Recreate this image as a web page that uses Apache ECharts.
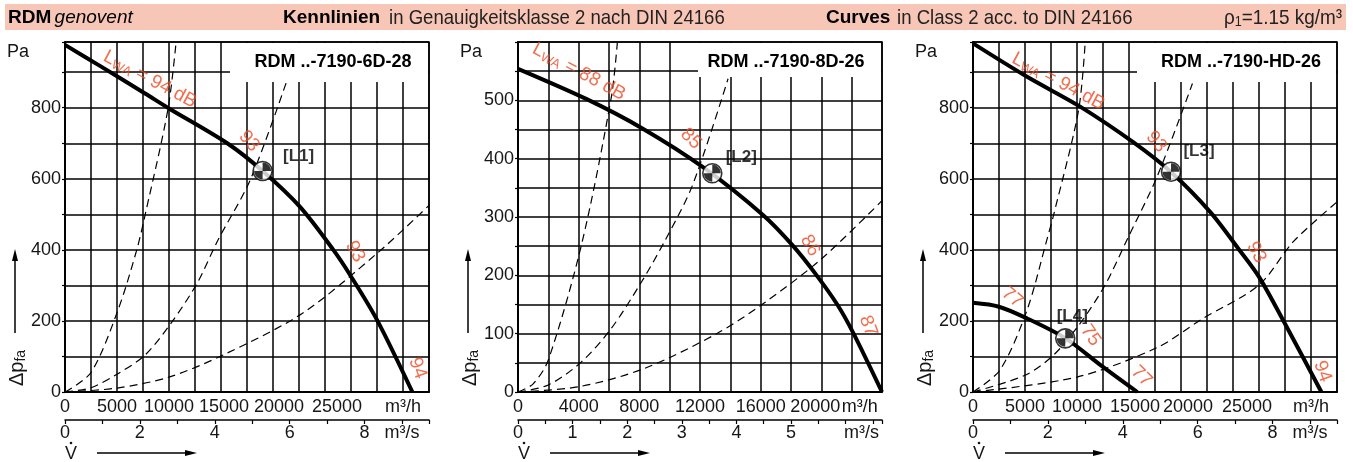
<!DOCTYPE html>
<html>
<head>
<meta charset="utf-8">
<script src="https://cdn.jsdelivr.net/npm/echarts@6/dist/echarts.min.js"></script>
<style>
  html, body { margin: 0; padding: 0; background: #fff; }
  #chart { width: 1353px; height: 462px; }
</style>
</head>
<body>
<div id="chart"></div>
<script>
// --- data (volume flow m3/h, pressure Pa) ---
const titles = ['RDM ..-7190-6D-28', 'RDM ..-7190-8D-26', 'RDM ..-7190-HD-26']

// tick labels
const qTicks1 = [0, 5000, 10000, 15000, 20000, 25000]
const qTicks2 = [0, 4000, 8000, 12000, 16000, 20000]
const sTicks1 = [0, 2, 4, 6, 8]
const sTicks2 = [0, 1, 2, 3, 4, 5]
const pTicks1 = [0, 200, 400, 600, 800]
const pTicks2 = [0, 100, 200, 300, 400, 500]

// 6D-28
const fan1Q = [0, 3400, 7700, 10000, 15600, 19000, 22600, 25800, 27400, 30000, 33400]
const fan1P = [977, 917, 840, 798, 700, 622, 521, 400, 330, 203, 0]
const sys1aQ = [0, 2500, 5100, 6900, 7700, 9900, 10700]
const sys1aP = [0, 55, 231, 400, 498, 796, 990]
const sys1bQ = [0, 2500, 5000, 7700, 10300, 12700, 14700, 17800, 21300]
const sys1bP = [0, 12, 50, 104, 198, 306, 427, 596, 873]
const sys1cQ = [0, 5000, 10000, 15200, 22800, 30000, 35000]
const sys1cP = [0, 11, 42, 104, 221, 390, 525]

// 8D-26
const fan2Q = [0, 4530, 8260, 12220, 16170, 18150, 19690, 21050, 22110, 24000]
const fan2P = [554, 502, 451, 385, 303, 250, 200, 150, 101, 0]
const sys2aQ = [0, 1000, 2000, 4200, 6150, 6550]
const sys2aP = [0, 14, 55, 254, 505, 599]
const sys2bQ = [0, 2000, 4200, 6150, 8150, 9700, 11500, 13850]
const sys2bP = [0, 12, 52, 109, 189, 260, 354, 537]
const sys2cQ = [0, 4000, 8300, 13100, 16200, 20000, 24000]
const sys2cP = [0, 9, 40, 100, 152, 228, 328]

// HD-26 (high and low speed)
const fan3Q = [0, 5200, 10300, 15400, 19000, 22800, 25500, 27500, 30000, 33500]
const fan3P = [981, 887, 803, 703, 620, 507, 404, 324, 192, 0]
const fan4Q = [0, 2500, 5200, 8900, 12300, 15800]
const fan4P = [251, 240, 207, 151, 75, 0]
const sys3aQ = [0, 2600, 5200, 7100, 7750, 10150, 10800]
const sys3aP = [0, 62, 231, 428, 498, 793, 990]
const sys3bQ = [0, 5000, 7750, 10300, 12700, 14800, 17700, 21100]
const sys3bP = [0, 47, 104, 193, 301, 428, 606, 868]
const sys3cQ = [0, 10000, 17700, 22000, 27500, 30800, 35000]
const sys3cP = [0, 42, 125, 205, 301, 423, 535]

// operating points
const opNames = ['[L1]', '[L2]', '[L3]', '[L4]']
const opPanel = [0, 1, 2, 2]
const opQ = [19000, 12810, 19040, 8870]
const opP = [622, 375, 620, 151]

// sound power notes along the curves
const noteText = ['LWA = 94 dB', '93', '93', '94', 'LWA = 88 dB', '85', '86', '87',
  'LWA = 94 dB', '93', '93', '94', '77', '75', '77']
const notePanel = [0, 0, 0, 0, 1, 1, 1, 1, 2, 2, 2, 2, 2, 2, 2]
const noteQ = [8170, 17700, 27900, 33900, 4020, 11400, 19250, 23080, 8200, 17630, 27250, 33600, 3780, 11300, 16200]
const noteP = [880, 706, 395, 67, 549, 434, 251, 113, 874, 704, 393, 58, 266, 159, 44]

// --- layout ---
const SANS = '"Liberation Sans", Arial, sans-serif'
const RED = '#ef4a23'
const INK = '#161616'
const noteRotate = [-28, -50, -62, -70, -28, -45, -60, -70, -28, -50, -62, -70, -40, -55, -45]
const opOffset = [[36, -15], [29, -16], [28, -20], [7, -22]]

const panels = [
  { left: 65, qMax: 35000, qStep: 2500, pMax: 985, pStep: 100, qTicks: qTicks1, sTicks: sTicks1, pTicks: pTicks1,
    qUnitAt: 32500, sUnitAt: 9, sUnitShift: 0, qShift: { 15000: 3, 20000: 6, 25000: 12 }, box: [230, 39] },
  { left: 518, qMax: 24000, qStep: 2000, pMax: 600, pStep: 50, qTicks: qTicks2, sTicks: sTicks2, pTicks: pTicks2,
    qUnitAt: 22000, sUnitAt: 6, sUnitShift: 16, qShift: { 20000: -6, 22000: 8 }, box: [698, 34] },
  { left: 973, qMax: 35000, qStep: 2500, pMax: 985, pStep: 100, qTicks: qTicks1, sTicks: sTicks1, pTicks: pTicks1,
    qUnitAt: 32500, sUnitAt: 9, sUnitShift: 0, qShift: { 15000: 6, 20000: 7, 25000: 14 }, box: [1137, 39] }
]
const TOP = 42, W = 364, H = 350

function shiftRich(shift, text) {
  if (!shift) return text
  const key = shift > 0 ? 'r' + shift : 'l' + (-shift)
  return '{' + key + '|' + text + '}'
}
const shiftStyles = {}
for (let i = 1; i <= 20; i++) {
  shiftStyles['r' + i] = { padding: [0, 0, 0, i * 2] }
  shiftStyles['l' + i] = { padding: [0, i * 2, 0, 0] }
}

const grid = []
const xAxis = []
const yAxis = []
const series = []
const graphic = []

panels.forEach((pn, i) => {
  grid.push({ left: pn.left, top: TOP, width: W, height: H, show: true, borderColor: '#000', borderWidth: 1.5, backgroundColor: 'transparent' })
  xAxis.push({
    type: 'value', gridIndex: i, min: 0, max: pn.qMax, interval: pn.qStep,
    axisLine: { show: true, onZero: false, lineStyle: { color: '#000', width: 2 } },
    axisTick: { show: false },
    splitLine: { show: true, lineStyle: { color: '#000', width: 1.5 } },
    axisLabel: {
      margin: 6, fontFamily: SANS, fontSize: 18, color: INK, rich: shiftStyles,
      formatter: v => {
        if (v === pn.qUnitAt) return shiftRich(pn.qShift[v], 'm³/h')
        if (pn.qTicks.includes(v)) return shiftRich(pn.qShift[v], String(v))
        return ''
      }
    }
  })
  xAxis.push({
    type: 'value', gridIndex: i, position: 'bottom', offset: 28, min: 0, max: pn.qMax / 3600, interval: 1,
    axisLine: { show: true, onZero: false, lineStyle: { color: '#000', width: 1.5 } },
    axisTick: { show: true, length: 4, lineStyle: { color: '#000', width: 1.2 } },
    minorTick: { show: i === 1, splitNumber: 2, length: 4, lineStyle: { color: '#000', width: 1.2 } },
    splitLine: { show: false },
    axisLabel: {
      margin: 4, fontFamily: SANS, fontSize: 18, color: INK, rich: shiftStyles,
      formatter: v => {
        if (v === pn.sUnitAt) return shiftRich(pn.sUnitShift, 'm³/s')
        if (pn.sTicks.includes(v)) return String(v)
        return ''
      }
    }
  })
  yAxis.push({
    type: 'value', gridIndex: i, min: 0, max: pn.pMax, interval: pn.pStep,
    axisLine: { show: true, lineStyle: { color: '#000', width: 2 } },
    axisTick: { show: true, length: 3, lineStyle: { color: '#000', width: 1.2 } },
    splitLine: { show: true, lineStyle: { color: '#000', width: 1.5 } },
    axisLabel: {
      margin: 4, fontFamily: SANS, fontSize: 18, color: INK,
      formatter: v => (pn.pTicks.includes(v) ? String(v) : '')
    }
  })

  // white title box that cuts the grid top right
  const right = pn.left + W
  graphic.push({ type: 'rect', z: 10, shape: { x: pn.box[0], y: TOP + 1, width: right - pn.box[0] - 1, height: pn.box[1] }, style: { fill: '#fff' } })
  graphic.push({ type: 'text', z: 11, x: right - 96, y: 62, style: { text: titles[i], fill: '#000', fontFamily: SANS, fontWeight: 'bold', fontSize: 18, align: 'center', verticalAlign: 'middle' } })

  const dx = pn.left - 65
  graphic.push({ type: 'text', z: 11, x: 18 + dx, y: 52, style: { text: 'Pa', fill: INK, fontFamily: SANS, fontSize: 18, align: 'center', verticalAlign: 'middle' } })
  graphic.push({
    type: 'text', z: 11, x: 17 + dx, y: 368, rotation: Math.PI / 2,
    style: {
      text: '{a|Δp}{b|fa}', fill: INK, align: 'center', verticalAlign: 'middle',
      rich: { a: { fontFamily: SANS, fontSize: 20, fill: INK }, b: { fontFamily: SANS, fontSize: 14, fill: INK, padding: [9, 0, 0, 0] } }
    }
  })
  graphic.push({ type: 'line', z: 11, shape: { x1: 15 + dx, y1: 333, x2: 15 + dx, y2: 258 }, style: { stroke: '#000', lineWidth: 1.5 } })
  graphic.push({ type: 'polygon', z: 11, shape: { points: [[15 + dx, 249], [12 + dx, 261], [18 + dx, 261]] }, style: { fill: '#000' } })
  graphic.push({ type: 'text', z: 11, x: 71 + dx, y: 454, style: { text: 'V', fill: INK, fontFamily: SANS, fontSize: 18, align: 'center', verticalAlign: 'middle' } })
  graphic.push({ type: 'circle', z: 11, shape: { cx: 71 + dx, cy: 443, r: 1.3 }, style: { fill: INK } })
  graphic.push({ type: 'line', z: 11, shape: { x1: 97 + dx, y1: 453, x2: 188 + dx, y2: 453 }, style: { stroke: '#000', lineWidth: 1.5 } })
  graphic.push({ type: 'polygon', z: 11, shape: { points: [[197 + dx, 453], [185 + dx, 450], [185 + dx, 456]] }, style: { fill: '#000' } })
})

function curve(panel, q, p, dashed) {
  return {
    type: 'line', xAxisIndex: panel * 2, yAxisIndex: panel,
    data: q.map((v, k) => [v, p[k]]),
    symbol: 'none', smooth: 0.3, silent: true, clip: true,
    lineStyle: dashed ? { color: '#000', width: 1.2, type: [8, 5] } : { color: '#000', width: 4 },
    z: dashed ? 3 : 4
  }
}

series.push(curve(0, fan1Q, fan1P, false), curve(0, sys1aQ, sys1aP, true), curve(0, sys1bQ, sys1bP, true), curve(0, sys1cQ, sys1cP, true))
series.push(curve(1, fan2Q, fan2P, false), curve(1, sys2aQ, sys2aP, true), curve(1, sys2bQ, sys2bP, true), curve(1, sys2cQ, sys2cP, true))
series.push(curve(2, fan3Q, fan3P, false), curve(2, fan4Q, fan4P, false), curve(2, sys3aQ, sys3aP, true), curve(2, sys3bQ, sys3bP, true), curve(2, sys3cQ, sys3cP, true))

panels.forEach((pn, i) => {
  // operating point markers
  const idx = opNames.map((n, k) => k).filter(k => opPanel[k] === i)
  series.push({
    type: 'scatter', xAxisIndex: i * 2, yAxisIndex: i, z: 6, silent: true,
    symbol: 'circle', symbolSize: 19,
    itemStyle: { color: '#fff', borderColor: '#000', borderWidth: 1.6 },
    data: idx.map(k => [opQ[k], opP[k]])
  })
  series.push({
    type: 'scatter', xAxisIndex: i * 2, yAxisIndex: i, z: 7, silent: true,
    symbol: 'path://M0 0V-10A10 10 0 0 1 10 0ZM0 0V10A10 10 0 0 1 -10 0Z', symbolSize: 17,
    itemStyle: { color: '#000' },
    data: idx.map(k => [opQ[k], opP[k]])
  })
  // marker names
  series.push({
    type: 'scatter', xAxisIndex: i * 2, yAxisIndex: i, z: 8, silent: true,
    symbolSize: 1, itemStyle: { color: 'rgba(0,0,0,0)' },
    data: idx.map(k => ({
      name: opNames[k], value: [opQ[k], opP[k]],
      label: {
        show: true, position: 'inside', offset: opOffset[k], formatter: '{b}',
        fontFamily: SANS, fontWeight: 'bold', fontSize: 17, color: '#000', textBorderWidth: 0
      }
    }))
  })
  // red sound power notes
  const nk = noteText.map((t, k) => k).filter(k => notePanel[k] === i)
  series.push({
    type: 'scatter', xAxisIndex: i * 2, yAxisIndex: i, z: 8, silent: true,
    symbolSize: 1, itemStyle: { color: 'rgba(0,0,0,0)' },
    data: nk.map(k => ({
      name: noteText[k], value: [noteQ[k], noteP[k]],
      label: {
        show: true, position: 'inside', rotate: noteRotate[k], color: RED, fontFamily: SANS, fontSize: 19,
        textBorderWidth: 0,
        formatter: noteText[k].startsWith('LWA') ? '{n|L}{s|WA}{n|' + noteText[k].slice(3) + '}' : noteText[k],
        rich: {
          n: { fontFamily: SANS, fontSize: 19, color: RED, textBorderWidth: 0 },
          s: { fontFamily: SANS, fontSize: 13, color: RED, textBorderWidth: 0, padding: [8, 0, 0, 0] }
        }
      }
    }))
  })
})

// header strip
const hdrBold = { fontFamily: SANS, fontWeight: 'bold', fontSize: 19, fill: '#000' }
const hdrThin = { fontFamily: SANS, fontSize: 21, fill: '#222' }
graphic.push({ type: 'rect', z: 1, shape: { x: 5, y: 4, width: 1341, height: 26 }, style: { fill: '#f7c6b6' } })
graphic.push({
  type: 'text', z: 2, x: 8, y: 18,
  style: {
    text: '{b|RDM} {i|genovent}', align: 'left', verticalAlign: 'middle',
    rich: { b: hdrBold, i: { fontFamily: SANS, fontStyle: 'italic', fontSize: 19, fill: '#000' } }
  }
})
graphic.push({ type: 'text', z: 2, x: 283, y: 18, style: Object.assign({ text: 'Kennlinien', align: 'left', verticalAlign: 'middle' }, hdrBold) })
graphic.push({ type: 'text', z: 2, x: 389, y: 18, scaleX: 0.885, style: Object.assign({ text: 'in Genauigkeitsklasse 2 nach DIN 24166', align: 'left', verticalAlign: 'middle' }, hdrThin) })
graphic.push({ type: 'text', z: 2, x: 826, y: 18, style: Object.assign({ text: 'Curves', align: 'left', verticalAlign: 'middle' }, hdrBold) })
graphic.push({ type: 'text', z: 2, x: 897, y: 18, scaleX: 0.885, style: Object.assign({ text: 'in Class 2 acc. to DIN 24166', align: 'left', verticalAlign: 'middle' }, hdrThin) })
graphic.push({
  type: 'text', z: 2, x: 1342, y: 18, scaleX: 0.9,
  style: {
    text: '{r|ρ}{s|1}{r|=1.15 kg/m³}', align: 'right', verticalAlign: 'middle',
    rich: { r: hdrThin, s: { fontFamily: SANS, fontSize: 14, fill: '#222', padding: [9, 0, 0, 0] } }
  }
})

const chart = echarts.init(document.getElementById('chart'))
chart.setOption({
  animation: false,
  backgroundColor: '#fff',
  grid, xAxis, yAxis, series, graphic
})
</script>
</body>
</html>
